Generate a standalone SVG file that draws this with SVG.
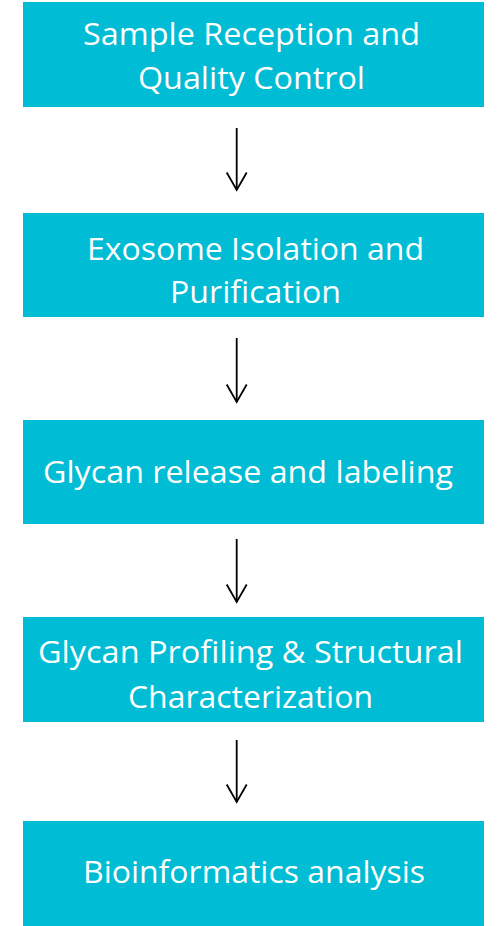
<svg xmlns="http://www.w3.org/2000/svg" width="504" height="926" viewBox="0 0 504 926">
<style>
.box{fill:#00BCD4;}
.lbl{font-family:"Open Sans","Noto Sans","Liberation Sans",sans-serif;font-size:30.5px;fill:#ffffff;}
.conn{stroke:#000;stroke-width:1.8;fill:none;}
</style>
<defs>
<marker id="arr" viewBox="0 0 20 24" refX="18.5" refY="12" markerWidth="20" markerHeight="24" markerUnits="userSpaceOnUse" orient="auto">
<path d="M1 2 L18.5 12 L1 22" fill="none" stroke="#000" stroke-width="1.8"/>
</marker>
</defs>
<rect width="504" height="926" fill="#ffffff"/>
<g id="node1">
<rect class="box" x="23" y="2" width="461" height="105"/>
<text class="lbl" x="83" y="45" textLength="337" lengthAdjust="spacingAndGlyphs">Sample Reception and</text>
<text class="lbl" x="138" y="89" textLength="227" lengthAdjust="spacingAndGlyphs">Quality Control</text>
</g>
<g id="node2">
<rect class="box" x="23" y="213" width="461" height="104"/>
<text class="lbl" x="87" y="260" textLength="337" lengthAdjust="spacingAndGlyphs">Exosome Isolation and</text>
<text class="lbl" x="170" y="303" textLength="171" lengthAdjust="spacingAndGlyphs">Purification</text>
</g>
<g id="node3">
<rect class="box" x="23" y="420" width="461" height="104"/>
<text class="lbl" x="43" y="483" textLength="410" lengthAdjust="spacingAndGlyphs">Glycan release and labeling</text>
</g>
<g id="node4">
<rect class="box" x="23" y="617" width="461" height="105"/>
<text class="lbl" x="38" y="663" textLength="425" lengthAdjust="spacingAndGlyphs">Glycan Profiling &amp; Structural</text>
<text class="lbl" x="128" y="708" textLength="245" lengthAdjust="spacingAndGlyphs">Characterization</text>
</g>
<g id="node5">
<rect class="box" x="23" y="821" width="461" height="105"/>
<text class="lbl" x="83" y="883" textLength="342" lengthAdjust="spacingAndGlyphs">Bioinformatics analysis</text>
</g>
<g id="connectors">
<path class="conn" d="M236.7 128 V190" marker-end="url(#arr)"/>
<path class="conn" d="M236.7 338 V402" marker-end="url(#arr)"/>
<path class="conn" d="M236.7 539 V602" marker-end="url(#arr)"/>
<path class="conn" d="M236.7 740 V802" marker-end="url(#arr)"/>
</g>
</svg>
